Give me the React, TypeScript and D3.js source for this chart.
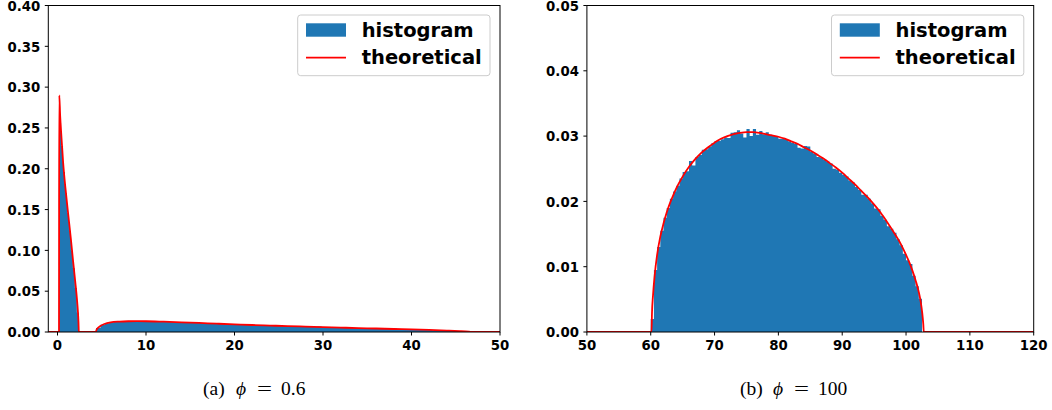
import React from 'react';
import * as d3 from 'd3';

// ---------- data ----------
const leftXTicks = [0, 10, 20, 30, 40, 50];
const leftYTicks = [0, 0.05, 0.1, 0.15, 0.2, 0.25, 0.3, 0.35, 0.4];
const rightXTicks = [50, 60, 70, 80, 90, 100, 110, 120];
const rightYTicks = [0, 0.01, 0.02, 0.03, 0.04, 0.05];

const legendLabels = ['histogram', 'theoretical'];
const captionLabels = ['(a)', '(b)'];
const captionValues = ['0.6', '100'];

// left panel histogram (phi = 0.6): two bulks
const leftBulk1Start = 0.18;
const leftBulk1Width = 0.223;
const leftBulk1Heights = [0.256, 0.228, 0.196, 0.17, 0.146, 0.124, 0.1, 0.078, 0.054, 0.024];

const leftBulk2Start = 4.35;
const leftBulk2Width = 0.5;
const leftBulk2Heights = [
  0.005, 0.0088, 0.0108, 0.0118, 0.0124, 0.0128, 0.013, 0.0131, 0.0132, 0.0132,
  0.0131, 0.013, 0.0129, 0.0128, 0.0126, 0.0125, 0.0123, 0.0122, 0.012, 0.0118,
  0.0116, 0.0114, 0.0112, 0.011, 0.0108, 0.0108, 0.0105, 0.0108, 0.01, 0.0097,
  0.0095, 0.0093, 0.0091, 0.0089, 0.0087, 0.009, 0.0083, 0.0081, 0.0079, 0.0084,
  0.0076, 0.0074, 0.0073, 0.0071, 0.0069, 0.0068, 0.0066, 0.0065, 0.0063, 0.0062,
  0.0066, 0.0059, 0.0058, 0.0056, 0.0055, 0.0053, 0.0052, 0.0051, 0.0049, 0.0048,
  0.0046, 0.0045, 0.0044, 0.0042, 0.0041, 0.0039, 0.0038, 0.0042, 0.0035, 0.0034,
  0.0033, 0.0031, 0.003, 0.0028, 0.0026, 0.0024, 0.0022, 0.002, 0.0018, 0.0016,
  0.0013, 0.0011, 0.0009, 0.0006, 0.0003,
];

const leftCurveX = [
  -1.04, 0.17, 0.18, 0.2, 0.3, 0.45, 0.64, 0.9, 1.2, 1.5, 1.77, 2.0, 2.2, 2.3, 2.37, 2.41,
  4.33, 4.4, 4.5, 4.8, 5.3, 6.0, 7.0, 8.0, 9.0, 10, 12, 14, 16, 18, 20, 22, 24, 26, 28, 30,
  32, 34, 36, 38, 40, 42, 44, 45.5, 46.5, 47, 50,
];
const leftCurveY = [
  0, 0, 0.15, 0.29, 0.265, 0.238, 0.207, 0.176, 0.145, 0.115, 0.086, 0.062, 0.04, 0.026, 0.012, 0,
  0, 0.0025, 0.0042, 0.007, 0.0098, 0.0118, 0.0128, 0.0132, 0.0133, 0.0132, 0.0126, 0.0119, 0.0111,
  0.0102, 0.0094, 0.0086, 0.0079, 0.0072, 0.0066, 0.006, 0.0054, 0.0048, 0.0043, 0.0037, 0.0032,
  0.0025, 0.0017, 0.001, 0.0004, 0, 0,
];

// right panel histogram (phi = 100)
const rightHistStart = 60.0;
const rightHistWidth = 0.5;
const rightHistHeights = [
  0.002, 0.0095, 0.013, 0.0155, 0.0175, 0.019, 0.0204, 0.0215, 0.0224, 0.0235,
  0.0245, 0.0246, 0.0262, 0.0255, 0.0268, 0.0271, 0.0279, 0.028, 0.0284, 0.0289,
  0.0292, 0.0293, 0.0295, 0.0298, 0.0297, 0.0305, 0.0306, 0.0309, 0.0304, 0.0298,
  0.0311, 0.03, 0.0311, 0.0302, 0.0308, 0.0303, 0.0306, 0.0302, 0.03, 0.03,
  0.0296, 0.0296, 0.0295, 0.0292, 0.029, 0.0288, 0.0282, 0.0281, 0.0285, 0.0284,
  0.0276, 0.0273, 0.0268, 0.0267, 0.0264, 0.0261, 0.0258, 0.025, 0.0249, 0.0244,
  0.0241, 0.0238, 0.0232, 0.0229, 0.0222, 0.0218, 0.021, 0.021, 0.0204, 0.0197,
  0.0189, 0.0188, 0.0178, 0.0172, 0.0162, 0.0158, 0.0152, 0.0142, 0.0133, 0.012,
  0.011, 0.0104, 0.0086, 0.007, 0.0051, 0.0,
];

const rightCurveX = [
  50, 60.12, 60.2, 60.35, 60.6, 61.0, 61.5, 62.0, 62.5, 63.0, 63.5, 64.0,
  65, 66, 67, 68, 69, 70, 71, 72, 73, 74, 75, 76, 77, 78, 79, 80, 81, 82, 83, 84, 85, 86, 87,
  88, 89, 90, 91, 92, 93, 94, 95, 96, 97, 98, 99, 100,
  100.5, 101, 101.5, 102, 102.3, 102.55, 102.7, 102.78, 120,
];
const rightCurveY = [
  0, 0, 0.003, 0.0055, 0.0085, 0.0118, 0.0146, 0.0166, 0.0183, 0.0197, 0.0209, 0.022,
  0.0238, 0.0253, 0.0265, 0.0275, 0.0283, 0.029, 0.0296, 0.03, 0.0303, 0.0305, 0.0306, 0.0306,
  0.0305, 0.0303, 0.0301, 0.0299, 0.0296, 0.0292, 0.0288, 0.0283, 0.0278, 0.0272, 0.0266,
  0.0259, 0.0252, 0.0244, 0.0235, 0.0226, 0.0216, 0.0206, 0.0195, 0.0183, 0.0169, 0.0154,
  0.0138, 0.0118, 0.0107, 0.0094, 0.0079, 0.0061, 0.0046, 0.0028, 0.0012, 0, 0,
];

// ---------- styling ----------
const BLUE = '#1f77b4';
const RED = '#ff0000';
const SANS = '"DejaVu Sans", sans-serif';
const SERIF = '"Liberation Serif", "DejaVu Serif", serif';

type Hist = { start: number; width: number; heights: number[] };

type PanelProps = {
  left: number;
  right: number;
  top: number;
  bottom: number;
  xDomain: [number, number];
  yDomain: [number, number];
  xTicks: number[];
  yTicks: number[];
  hists: Hist[];
  curveX: number[];
  curveY: number[];
  legendX: number;
  clipId: string;
};

function Panel(p: PanelProps) {
  const xs = d3.scaleLinear().domain(p.xDomain).range([p.left, p.right]);
  const ys = d3.scaleLinear().domain(p.yDomain).range([p.bottom, p.top]);
  const yFmt = d3.format('.2f');

  const area = d3
    .area<[number, number]>()
    .x((d) => xs(d[0]))
    .y0(ys(0))
    .y1((d) => ys(d[1]))
    .curve(d3.curveStepAfter);

  const line = d3
    .line<[number, number]>()
    .x((d) => xs(d[0]))
    .y((d) => ys(d[1]))
    .curve(d3.curveMonotoneX);

  const curvePts: [number, number][] = p.curveX.map((x, i) => [x, p.curveY[i]]);

  const lx = p.legendX;
  return (
    <g>
      <defs>
        <clipPath id={p.clipId}>
          <rect x={p.left} y={p.top} width={p.right - p.left} height={p.bottom - p.top} />
        </clipPath>
      </defs>
      <g clipPath={`url(#${p.clipId})`}>
        {p.hists.map((h, k) => {
          const pts: [number, number][] = h.heights.map((v, i) => [h.start + i * h.width, v]);
          pts.push([h.start + h.heights.length * h.width, h.heights[h.heights.length - 1]]);
          return <path key={k} d={area(pts) || ''} fill={BLUE} stroke="none" />;
        })}
        <path d={line(curvePts) || ''} fill="none" stroke={RED} strokeWidth={1.8} />
      </g>
      {/* spines */}
      <rect
        x={p.left}
        y={p.top}
        width={p.right - p.left}
        height={p.bottom - p.top}
        fill="none"
        stroke="#000"
        strokeWidth={1}
      />
      {/* x ticks */}
      {p.xTicks.map((t) => (
        <g key={'x' + t}>
          <line x1={xs(t)} x2={xs(t)} y1={p.bottom} y2={p.bottom + 3.5} stroke="#000" strokeWidth={1} />
          <text
            x={xs(t)}
            y={p.bottom + 17.5}
            textAnchor="middle"
            fontFamily={SANS}
            fontWeight="bold"
            fontSize={13.3}
            fill="#000"
          >
            {String(t)}
          </text>
        </g>
      ))}
      {/* y ticks */}
      {p.yTicks.map((t) => (
        <g key={'y' + t}>
          <line x1={p.left - 3.5} x2={p.left} y1={ys(t)} y2={ys(t)} stroke="#000" strokeWidth={1} />
          <text
            x={p.left - 8}
            y={ys(t) + 0.5}
            dy="0.36em"
            textAnchor="end"
            fontFamily={SANS}
            fontWeight="bold"
            fontSize={13.3}
            fill="#000"
          >
            {yFmt(t)}
          </text>
        </g>
      ))}
      {/* legend */}
      <rect
        x={lx}
        y={15}
        width={192.3}
        height={60.7}
        rx={3}
        ry={3}
        fill="#fff"
        fillOpacity={0.8}
        stroke="#cccccc"
        strokeWidth={1}
      />
      <rect x={lx + 8.3} y={23.3} width={40} height={13.4} fill={BLUE} />
      <line x1={lx + 8.3} x2={lx + 48.3} y1={57.7} y2={57.7} stroke={RED} strokeWidth={1.8} />
      <text x={lx + 64} y={37.4} fontFamily={SANS} fontWeight="bold" fontSize={19.5} fill="#000">
        {legendLabels[0]}
      </text>
      <text x={lx + 64} y={64.3} fontFamily={SANS} fontWeight="bold" fontSize={19.5} fill="#000">
        {legendLabels[1]}
      </text>
    </g>
  );
}

function Caption({ x0, idx }: { x0: number; idx: number }) {
  const base = 395;
  return (
    <g fontFamily={SERIF} fontSize={19.5} fill="#000">
      <text x={x0} y={base}>
        {captionLabels[idx]}
      </text>
      <text x={x0 + 33} y={base} fontStyle="italic">
        ϕ
      </text>
      <text x={x0 + 54} y={base} textLength={15} lengthAdjust="spacingAndGlyphs">
        =
      </text>
      <text x={x0 + 78} y={base}>
        {captionValues[idx]}
      </text>
    </g>
  );
}

export default function App() {
  return (
    <svg
      width={1052}
      height={410}
      viewBox="0 0 1052 410"
      style={{ position: 'absolute', left: 0, top: 0, background: '#fff' }}
    >
      <rect x={0} y={0} width={1052} height={410} fill="#fff" />
      <Panel
        left={48.3}
        right={500}
        top={5.5}
        bottom={332}
        xDomain={[-1.04, 50]}
        yDomain={[0, 0.4]}
        xTicks={leftXTicks}
        yTicks={leftYTicks}
        hists={[
          { start: leftBulk1Start, width: leftBulk1Width, heights: leftBulk1Heights },
          { start: leftBulk2Start, width: leftBulk2Width, heights: leftBulk2Heights },
        ]}
        curveX={leftCurveX}
        curveY={leftCurveY}
        legendX={297.7}
        clipId="clipL"
      />
      <Panel
        left={586.9}
        right={1033.7}
        top={5.5}
        bottom={332}
        xDomain={[50, 120]}
        yDomain={[0, 0.05]}
        xTicks={rightXTicks}
        yTicks={rightYTicks}
        hists={[{ start: rightHistStart, width: rightHistWidth, heights: rightHistHeights }]}
        curveX={rightCurveX}
        curveY={rightCurveY}
        legendX={831.5}
        clipId="clipR"
      />
      <Caption x0={203} idx={0} />
      <Caption x0={740} idx={1} />
    </svg>
  );
}
